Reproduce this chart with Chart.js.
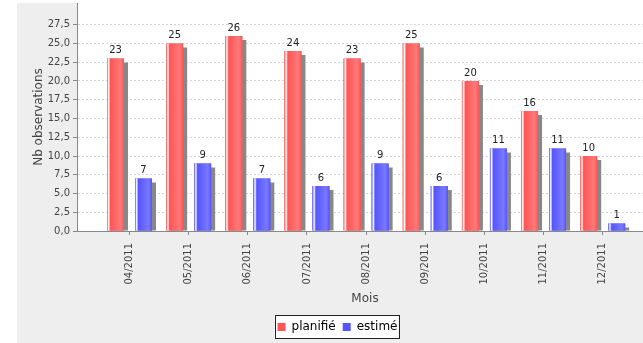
<!DOCTYPE html>
<html>
<head>
<meta charset="utf-8">
<script src="https://cdn.jsdelivr.net/npm/chart.js@4.4.0/dist/chart.umd.min.js"></script>
<style>
  html, body { margin: 0; padding: 0; background: #fff; overflow: hidden; width: 643px; height: 343px; }
  #wrap { position: absolute; left: 17px; top: 3px; width: 660px; height: 340px; }
</style>
</head>
<body>
<div id="wrap"><canvas id="chart" width="660" height="340"></canvas></div>
<script>
const months = ['04/2011', '05/2011', '06/2011', '07/2011', '08/2011', '09/2011', '10/2011', '11/2011', '12/2011'];
const planned = [23, 25, 26, 24, 23, 25, 20, 16, 10];
const estimated = [7, 9, 7, 6, 9, 6, 11, 11, 1];
const yTicks = [0, 2.5, 5, 7.5, 10, 12.5, 15, 17.5, 20, 22.5, 25, 27.5];

const FONT = '"DejaVu Sans", "Liberation Sans", sans-serif';
const RED = '#ff5555', RED_HI = '#ff7979';
const BLUE = '#5555ff', BLUE_HI = '#7979ff';

// x is a linear index axis so the category margins can be set by hand
const X_MIN = -0.8876, X_MAX = 8.85, Y_MAX = 30.4;

// background, bar shadows, gradient bar faces, value labels and the framed legend
const barLook = {
  id: 'barLook',
  beforeDraw(chart) {
    const { ctx, chartArea: a } = chart;
    ctx.save();
    ctx.fillStyle = '#eeeeee';
    ctx.fillRect(0, 0, chart.width, chart.height);
    ctx.fillStyle = '#ffffff';
    ctx.fillRect(a.left, a.top, a.right - a.left, a.bottom - a.top);
    const f = legendFrame(chart);
    if (f) ctx.fillRect(f.x, f.y, f.w, f.h);
    ctx.restore();
  },
  beforeDatasetsDraw(chart) {
    const { ctx, chartArea: a } = chart;
    ctx.save();
    ctx.beginPath();
    ctx.rect(a.left, a.top, a.right - a.left, a.bottom - a.top);
    ctx.clip();
    ctx.fillStyle = '#888888';
    chart.data.datasets.forEach((ds, di) => {
      chart.getDatasetMeta(di).data.forEach(el => {
        const { x, y, base, width } = el.getProps(['x', 'y', 'base', 'width'], true);
        ctx.fillRect(x - width / 2 + 4, y + 4, width, base - y - 4);
      });
    });
    ctx.restore();
  },
  afterDatasetsDraw(chart) {
    const { ctx } = chart;
    const faces = [[RED, RED_HI], [BLUE, BLUE_HI]];
    ctx.save();
    chart.data.datasets.forEach((ds, di) => {
      const [c0, c1] = faces[di];
      chart.getDatasetMeta(di).data.forEach((el, i) => {
        const { x, y, base, width } = el.getProps(['x', 'y', 'base', 'width'], true);
        const left = x - width / 2;
        const g = ctx.createLinearGradient(left, 0, left + width, 0);
        g.addColorStop(0, c0);
        g.addColorStop(0.1, '#ffffff');
        g.addColorStop(0.2, c0);
        g.addColorStop(0.8, c1);
        g.addColorStop(1, c0);
        ctx.fillStyle = g;
        ctx.fillRect(left, y, width, base - y);

        ctx.fillStyle = '#222222';
        ctx.font = '10px ' + FONT;
        ctx.textAlign = 'center';
        ctx.textBaseline = 'bottom';
        ctx.fillText(String(ds.data[i].y), x, y - 3);
      });
    });
    ctx.restore();
  },
  afterDraw(chart) {
    const f = legendFrame(chart);
    if (!f) return;
    const { ctx } = chart;
    ctx.save();
    ctx.strokeStyle = '#222222';
    ctx.lineWidth = 1;
    ctx.strokeRect(Math.round(f.x) + 0.5, Math.round(f.y) + 0.5, Math.round(f.w), Math.round(f.h));
    ctx.restore();
  }
};

function legendFrame(chart) {
  const boxes = chart.legend && chart.legend.legendHitBoxes;
  if (!boxes || !boxes.length) return null;
  const first = boxes[0], last = boxes[boxes.length - 1];
  const x = first.left - 3;
  const y = first.top - 6;
  return { x, y, w: last.left + last.width + 1 - x, h: first.height + 11 };
}

new Chart(document.getElementById('chart'), {
  type: 'bar',
  data: {
    datasets: [
      {
        label: 'planifié',
        data: planned.map((v, i) => ({ x: i, y: v })),
        backgroundColor: RED,
        borderWidth: 0,
        categoryPercentage: 0.947,
        barPercentage: 0.607
      },
      {
        label: 'estimé',
        data: estimated.map((v, i) => ({ x: i, y: v })),
        backgroundColor: BLUE,
        borderWidth: 0,
        categoryPercentage: 0.947,
        barPercentage: 0.607
      }
    ]
  },
  options: {
    responsive: false,
    animation: false,
    layout: { padding: { left: 0, right: 19, top: 0, bottom: 0 } },
    plugins: {
      tooltip: { enabled: false },
      legend: {
        position: 'bottom',
        labels: {
          boxWidth: 8,
          boxHeight: 8,
          padding: 7,
          color: '#000000',
          font: { family: FONT, size: 12 }
        }
      }
    },
    scales: {
      x: {
        type: 'linear',
        offset: false,
        min: X_MIN,
        max: X_MAX,
        afterBuildTicks: s => { s.ticks = months.map((m, i) => ({ value: i })); },
        afterFit: s => { s.height = 83; s.paddingLeft = 0; s.paddingRight = 0; },
        ticks: {
          autoSkip: false,
          minRotation: 90,
          maxRotation: 90,
          padding: 8,
          color: '#444444',
          font: { family: FONT, size: 10 },
          callback: v => months[v]
        },
        grid: { display: true, offset: false, drawOnChartArea: false, drawTicks: true, tickLength: 4, tickColor: '#888888' },
        border: { display: true, color: '#888888' },
        title: {
          display: true,
          text: 'Mois',
          color: '#444444',
          font: { family: FONT, size: 12 },
          padding: { top: 0, bottom: 8 }
        }
      },
      y: {
        min: 0,
        max: Y_MAX,
        afterBuildTicks: s => { s.ticks = yTicks.map(v => ({ value: v })); },
        afterFit: s => { s.width = 60; s.paddingTop = 0; s.paddingBottom = 0; },
        ticks: {
          padding: 3,
          color: '#444444',
          font: { family: FONT, size: 10 },
          callback: v => v.toFixed(1).replace('.', ',')
        },
        grid: { color: '#d4d4d4', tickColor: '#888888', tickLength: 4, drawTicks: true },
        border: { display: true, color: '#888888', dash: [2, 2] },
        title: {
          display: true,
          text: 'Nb observations',
          color: '#444444',
          font: { family: FONT, size: 12 },
          padding: { top: 15, bottom: 0 }
        }
      },
      yR: {
        position: 'right',
        min: 0,
        max: 1,
        ticks: { display: false },
        grid: { display: false, drawTicks: false },
        border: { display: false },
        afterFit: s => { s.width = 5; s.paddingTop = 0; s.paddingBottom = 0; }
      }
    }
  },
  plugins: [barLook]
});
</script>
</body>
</html>
